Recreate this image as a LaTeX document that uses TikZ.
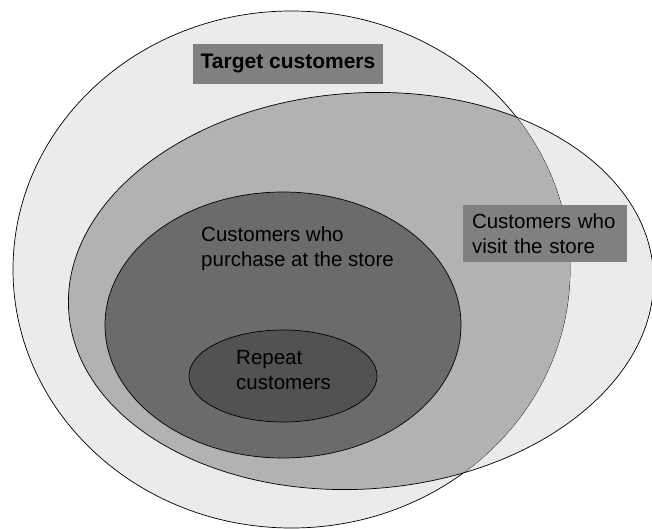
\documentclass[tikz,border=0pt]{standalone}
\usepackage{fontspec}
\setmainfont{Liberation Sans}
\begin{document}
\begin{tikzpicture}[x=1pt,y=-1pt,
    ring/.style={draw=black,line width=0.7pt},
    intext/.style={font=\fontsize{20.5}{25}\selectfont,align=left,text=black},
    tagbox/.style={fill=black!50,inner sep=0pt}]
  \path[use as bounding box,fill=white] (0,0) rectangle (652,529);
  % customers who visit the store
  \def\visitcurve{(361,291) ellipse [x radius=293, y radius=198, rotate=4]}
  \fill[black!8] \visitcurve;
  % target customers
  \draw[ring,fill=black!8] (291.5,269.5) ellipse (278.5 and 258.5);
  \begin{scope}
    \clip (291.5,269.5) ellipse (278.5 and 258.5);
    \fill[black!30] \visitcurve;
  \end{scope}
  \draw[ring] \visitcurve;
  % purchase, repeat
  \draw[ring,fill=black!58] (283,325) ellipse (178 and 133);
  \draw[ring,fill=black!68] (283,376) ellipse (94 and 46);

  \node[tagbox,minimum width=190pt,minimum height=40pt,
        font=\bfseries\fontsize{21}{25}\selectfont] (target) at (288,64) {Target customers};
  \node[tagbox,intext,minimum width=164pt,minimum height=57pt,
        text width=146pt] (visit) at (545,233.5) {Customers who\\visit the store};
  \node[intext] (purchase) at (297.5,249) {Customers who\\purchase at the store};
  \node[intext] (repeat) at (283.5,370) {Repeat\\customers};
\end{tikzpicture}
\end{document}
